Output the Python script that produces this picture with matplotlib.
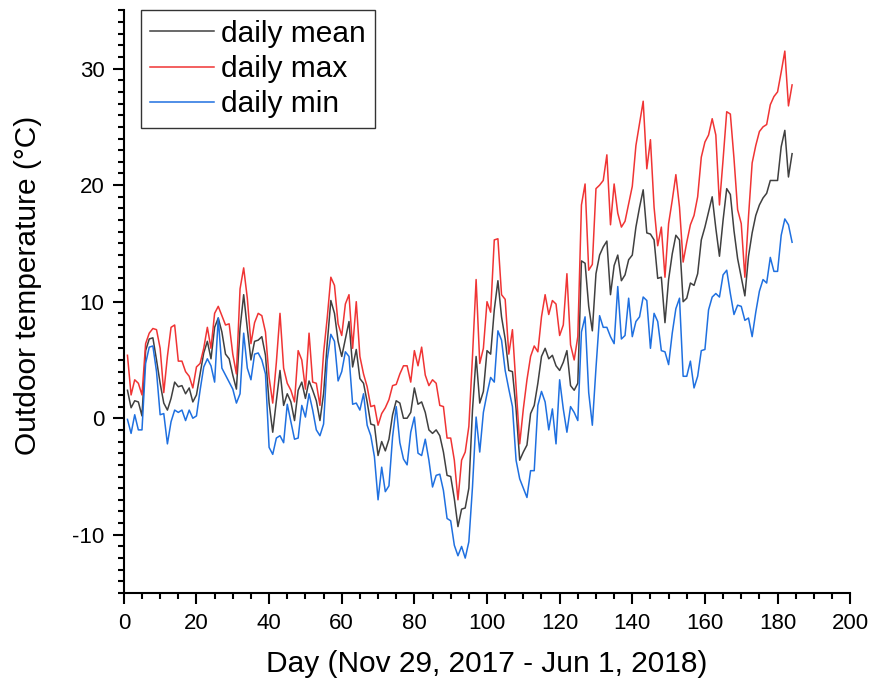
import numpy as np
import matplotlib
matplotlib.use("Agg")
import matplotlib.pyplot as plt
from matplotlib.ticker import MultipleLocator

plt.rcParams['font.family'] = ['Liberation Sans', 'DejaVu Sans']
plt.rcParams['axes.unicode_minus'] = False

days = list(range(1, 185))

t_max = [5.4, 2.0, 3.3, 3.0, 2.0, 6.4, 7.3, 7.7, 7.6, 6.0,
         2.2, 5.3, 7.8, 8.0, 4.9, 4.9, 4.0, 3.6, 2.6, 4.4,
         4.7, 6.0, 7.8, 6.0, 9.0, 9.6, 8.8, 8.0, 8.1, 5.5,
         3.8, 11.1, 12.9, 10.3, 6.4, 8.2, 9.0, 8.8, 7.4, 3.5,
         1.3, 4.8, 9.0, 4.3, 3.0, 2.4, 1.4, 5.8, 5.0, 2.5,
         7.3, 3.1, 3.0, 1.1, 5.6, 8.6, 12.1, 11.4, 8.1, 7.1,
         9.8, 10.6, 6.0, 10.0, 5.3, 3.8, 2.7, 1.0, 1.1, -0.6,
         0.4, 0.9, 1.6, 2.8, 2.9, 3.8, 4.5, 4.5, 3.1, 5.8,
         4.5, 6.1, 3.7, 2.8, 3.3, 3.0, 1.1, 1.0, -1.7, -1.7,
         -3.6, -7.0, -3.6, -2.9, -0.7, 5.3, 11.9, 4.7, 6.0, 10.0,
         9.1, 15.3, 15.4, 10.6, 10.2, 5.5, 7.6, 2.7, -2.2, 0.8,
         3.3, 5.3, 6.2, 5.7, 8.7, 10.6, 8.9, 10.1, 9.8, 7.1,
         8.0, 12.4, 6.3, 5.0, 7.0, 18.3, 20.1, 12.7, 13.2, 19.7,
         20.0, 20.4, 22.6, 16.6, 20.1, 17.6, 16.4, 16.9, 18.4, 19.9,
         23.4, 25.3, 27.2, 21.4, 23.9, 18.1, 14.8, 16.4, 12.1, 16.7,
         18.7, 20.9, 18.1, 13.4, 15.1, 16.6, 17.4, 19.0, 22.4, 23.7,
         24.3, 25.7, 24.3, 18.3, 22.2, 26.3, 26.1, 22.3, 17.9, 16.7,
         12.1, 17.3, 21.9, 23.4, 24.6, 25.0, 25.2, 26.9, 27.6, 28.0,
         29.7, 31.5, 26.8, 28.6]

t_mean = [2.4, 0.9, 1.5, 1.4, 0.2, 5.8, 6.8, 6.9, 5.0, 3.0,
          1.3, 0.7, 1.7, 3.1, 2.7, 2.8, 2.1, 2.6, 1.4, 2.0,
          3.8, 5.6, 6.6, 5.1, 7.8, 8.6, 7.4, 5.5, 5.1, 3.7,
          2.5, 7.7, 10.6, 7.7, 5.0, 6.6, 6.7, 7.0, 5.4, 1.3,
          -1.2, 1.5, 4.1, 1.1, 2.1, 1.4, -0.2, 2.4, 3.1, 1.7,
          3.2, 2.4, 1.5, -0.2, 2.1, 6.4, 10.1, 9.0, 6.6, 5.3,
          6.8, 8.3, 4.4, 5.9, 3.4, 3.0, 1.4, -0.5, -0.6, -3.2,
          -2.0, -2.8, -1.8, 0.3, 1.5, 1.3, 0.0, 0.0, 0.5, 2.6,
          1.2, 1.4, 0.5, -1.0, -1.3, -1.0, -1.5, -2.9, -4.9, -5.0,
          -6.9, -9.3, -7.8, -7.7, -6.0, 0.7, 5.3, 1.3, 2.3, 5.8,
          5.5, 9.3, 11.8, 8.7, 6.8, 4.1, 4.0, 0.8, -3.6, -2.9,
          -2.3, 0.4, 1.1, 3.0, 5.3, 6.0, 5.1, 5.4, 4.5, 4.1,
          4.8, 5.8, 2.8, 2.4, 3.0, 13.5, 13.3, 9.6, 7.5, 12.4,
          14.0, 14.7, 15.2, 10.6, 13.1, 14.0, 11.8, 12.3, 13.6, 14.0,
          16.4, 18.1, 19.6, 15.9, 15.8, 15.3, 12.0, 12.1, 8.2, 11.9,
          14.1, 15.7, 15.3, 10.0, 10.3, 11.6, 11.4, 12.4, 15.3, 16.4,
          17.7, 19.0, 16.3, 13.9, 17.0, 19.7, 19.2, 16.1, 13.7, 12.1,
          10.5, 13.9, 15.9, 17.4, 18.3, 18.9, 19.3, 20.4, 20.4, 20.4,
          23.3, 24.7, 20.7, 22.7]

t_min = [-0.1, -1.3, 0.3, -1.0, -1.0, 4.7, 6.1, 6.2, 4.0, 0.3,
         0.4, -2.2, -0.3, 0.7, 0.5, 0.7, -0.2, 0.7, 0.0, 0.2,
         2.4, 4.4, 5.1, 4.5, 3.1, 8.6, 4.3, 3.7, 3.1, 2.5,
         1.3, 2.1, 7.3, 4.3, 3.3, 5.5, 5.6, 5.0, 3.8, -2.5,
         -3.1, -1.7, -1.5, -2.1, 1.2, -0.3, -1.8, -1.7, 1.1, 0.1,
         2.1, 0.7, -1.0, -1.5, -0.5, 5.0, 7.2, 6.6, 3.2, 4.0,
         5.7, 5.3, 1.2, 1.3, 0.7, 2.1, -0.6, -1.5, -3.3, -7.0,
         -4.2, -6.3, -5.8, -1.6, 1.0, -2.1, -3.5, -4.0, -1.2, 0.1,
         -3.0, -3.2, -1.8, -3.6, -5.9, -4.9, -4.8, -6.2, -8.6, -8.8,
         -10.9, -11.8, -11.0, -12.0, -10.6, -5.9, 0.1, -2.9, 0.5, 2.1,
         3.5, 3.1, 7.5, 6.7, 4.1, 2.5, 1.0, -3.6, -5.2, -6.0,
         -6.8, -4.5, -4.5, 1.1, 2.3, 1.4, -1.0, 0.8, -2.2, 3.3,
         0.8, -1.2, 1.0, 0.5, -0.2, 7.4, 8.7, 2.2, -0.6, 4.3,
         8.8, 7.8, 7.8, 7.0, 6.4, 11.3, 6.8, 7.1, 10.3, 7.0,
         8.3, 8.7, 10.4, 10.1, 6.0, 9.0, 8.3, 5.8, 5.7, 4.6,
         7.3, 9.4, 10.3, 3.6, 3.6, 4.9, 2.6, 3.6, 5.8, 5.9,
         9.3, 10.4, 10.7, 10.4, 12.3, 12.7, 10.7, 8.9, 9.7, 9.6,
         8.4, 8.6, 7.0, 9.1, 10.9, 11.9, 11.6, 13.8, 12.6, 12.6,
         15.7, 17.1, 16.6, 15.1]

fig = plt.figure(figsize=(8.72, 6.88), dpi=100)
ax = fig.add_axes([0.142, 0.138, 0.833, 0.847])

ax.plot(days, t_mean, color='#404040', lw=1.1, label='daily mean')
ax.plot(days, t_max, color='#f03434', lw=1.1, label='daily max')
ax.plot(days, t_min, color='#1f70e0', lw=1.1, label='daily min')

ax.set_xlim(0, 200)
ax.set_ylim(-15, 35)
ax.xaxis.set_major_locator(MultipleLocator(20))
ax.xaxis.set_minor_locator(MultipleLocator(5))
ax.yaxis.set_minor_locator(MultipleLocator(1))
ax.set_yticks([-10, 0, 10, 20, 30])

for s in ['top', 'right']:
    ax.spines[s].set_visible(False)
for s in ['left', 'bottom']:
    ax.spines[s].set_linewidth(1.5)

ax.tick_params(which='major', direction='out', length=8, width=1.5, labelsize=16, pad=6)
ax.tick_params(which='minor', direction='out', length=4, width=1.5)

ax.set_xlabel('Day (Nov 29, 2017 - Jun 1, 2018)', fontsize=21.5, labelpad=12)
ax.set_ylabel('Outdoor temperature (°C)', fontsize=21.5)
ax.yaxis.set_label_coords(-0.112, 0.528)

leg = ax.legend(loc='upper left', bbox_to_anchor=(0.023, 1.0), fontsize=21.5,
                frameon=True, fancybox=False, edgecolor='black',
                handlelength=2.15, handletextpad=0.22, borderpad=0.32,
                labelspacing=0.24, borderaxespad=0.0)
leg.get_frame().set_linewidth(1.0)

fig.savefig('out.png', dpi=100)
